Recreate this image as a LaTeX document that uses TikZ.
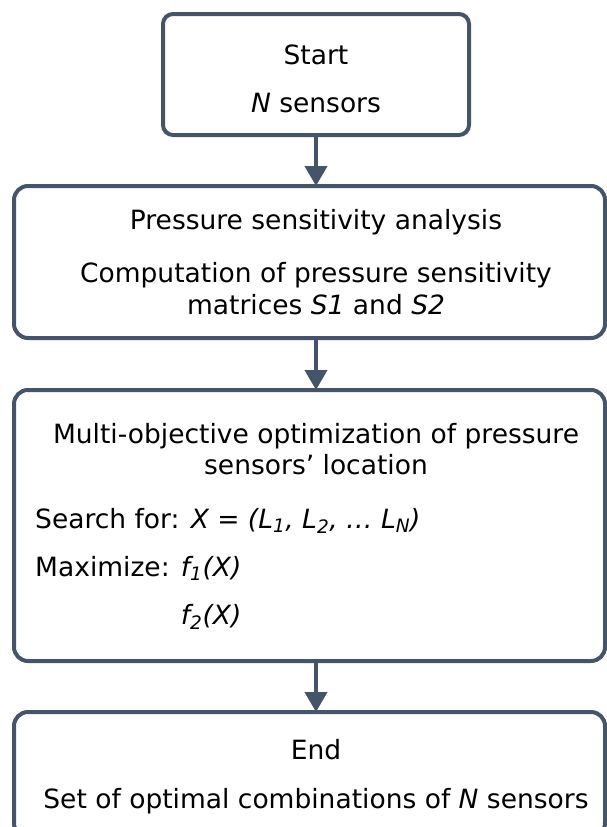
\documentclass[tikz,border=0pt]{standalone}
\usepackage{fontspec}
\setmainfont{DejaVu Sans}
\usetikzlibrary{arrows.meta}

\definecolor{slate}{HTML}{44546A}

\tikzset{
  stage/.style={draw=slate, line width=4pt, rounded corners=14pt,
    inner sep=0pt, outer sep=0pt, anchor=north west},
  flow/.style={draw=slate, line width=4pt, -{Triangle[width=22pt,length=20pt]}},
  txt/.style={font=\fontsize{26.5}{30}\selectfont, inner sep=0pt, anchor=base},
  txtl/.style={txt, anchor=base west}
}

\begin{document}
\begin{tikzpicture}[x=1pt,y=-1pt]
    \useasboundingbox (0,0) rectangle (606,827);

    % The four stages
    \node[stage, rounded corners=10pt, minimum width=306pt, minimum height=121pt] (start) at (163,14) {};
    \node[stage, minimum width=591pt, minimum height=152pt] (psa) at (14,186) {};
    \node[stage, minimum width=591pt, minimum height=271pt] (moo) at (14,390) {};
    \node[stage, minimum width=591pt, minimum height=125pt] (end) at (14,712) {};

    % Arrows down the middle
    \draw[flow] (start) -- (start |- psa.north);
    \draw[flow] (psa.south -| start) -- (start |- moo.north);
    \draw[flow] (moo.south -| start) -- (start |- end.north);

    % Start
    \node[txt] (startT) at (316,64) {Start};
    \node[txt] (startN) at (316,112) {\textit{N} sensors};

    % Sensitivity analysis
    \node[txt] (psaT) at (316,229) {Pressure sensitivity analysis};
    \node[txt] (psaA) at (316,282) {Computation of pressure sensitivity};
    \node[txt] (psaB) at (316,314) {matrices \textit{S1} and \textit{S2}};

    % Optimization
    \node[txt] (mooT) at (316,443) {Multi-objective optimization of pressure};
    \node[txt] (mooA) at (316,474) {sensors’ location};
    \node[txtl] (search) at (35,528) {Search for: \textit{X = (L\textsubscript{1}, L\textsubscript{2}, … L\textsubscript{N})}};
    \node[txtl] (maxi) at (35,576) {Maximize: \textit{f\textsubscript{1}(X)}};
    \node[txtl] (ftwo) at (35,624) {\phantom{Maximize: }\textit{f\textsubscript{2}(X)}};

    % End
    \node[txt] (endT) at (316,759) {End};
    \node[txt] (endA) at (316,808) {Set of optimal combinations of \textit{N} sensors};
\end{tikzpicture}
\end{document}
